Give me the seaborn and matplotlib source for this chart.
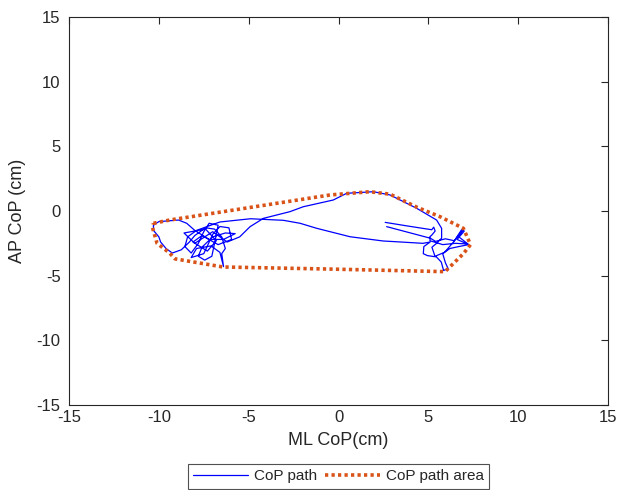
import matplotlib
matplotlib.use("Agg")
import matplotlib.pyplot as plt
import seaborn as sns
import pandas as pd

# CoP path (cm)
ml_path = [2.60, 3.80, 5.19, 5.30, 5.38, 5.20, 5.05, 5.40, 5.95, 6.45, 6.85, 7.00, 6.60, 7.25, 6.70,
           6.20, 5.80, 5.95, 6.10, 5.85, 5.72, 5.45, 4.95, 4.72, 4.75, 5.10,
           4.70, 3.50, 2.49, 0.64, -1.21, -2.14, -3.07, -4.90, -6.60, -7.33,
           -7.90, -8.40, -8.55, -8.20, -7.80, -7.50, -7.20, -6.70, -6.90, -7.05, -7.45, -7.80, -7.60,
           -7.00, -6.30, -5.75, -6.40, -7.20, -8.00, -8.45, -8.90, -10.00, -10.30, -10.30, -10.00,
           -9.90, -9.60, -9.25, -8.75, -8.30, -8.00, -7.40, -6.90, -6.50, -6.30, -6.50, -6.40, -6.60,
           -7.10, -7.90, -8.20, -7.50, -7.00, -6.60, -6.10, -5.95, -6.70, -7.60, -8.10, -7.30, -6.80,
           -7.40, -8.60, -8.00, -7.00, -6.20, -5.50,
           -4.92, -4.18, -2.70, -1.96, -0.29, 0.46, 1.94, 2.87, 4.35, 5.46, 5.74, 5.74, 5.46,
           5.20, 5.37, 5.90, 6.40, 6.95, 6.70, 7.20, 6.50, 5.80, 5.09, 5.10, 2.68]
ap_path = [-0.88, -1.15, -1.45, -1.25, -1.55, -1.85, -2.05, -2.35, -2.15, -2.30, -1.45, -1.55, -2.20, -2.60, -2.75,
           -2.90, -3.30, -4.00, -4.45, -4.60, -3.95, -3.55, -3.45, -3.30, -2.75, -2.40,
           -2.50, -2.40, -2.32, -1.99, -1.34, -0.95, -0.72, -0.60, -0.85, -1.21,
           -1.50, -2.00, -2.75, -3.25, -2.50, -1.60, -0.95, -1.10, -2.50, -3.50, -3.80, -3.50, -2.80,
           -2.00, -1.70, -1.75, -2.20, -2.20, -1.50, -0.95, -0.70, -0.82, -1.10, -1.50, -2.00,
           -2.40, -2.90, -3.25, -3.00, -2.40, -1.90, -1.30, -1.40, -2.00, -2.90, -3.30, -4.30, -3.20,
           -2.70, -2.90, -3.60, -3.30, -1.80, -1.20, -1.30, -2.20, -2.60, -1.90, -2.40, -3.10, -2.30,
           -1.40, -1.70, -2.50, -1.60, -2.40, -2.00,
           -1.21, -0.57, -0.05, 0.33, 0.85, 1.37, 1.49, 1.24, 0.21, -0.70, -1.34, -2.10, -2.50,
           -2.80, -3.50, -3.20, -2.40, -1.40, -2.00, -2.55, -2.50, -2.60, -2.30, -2.10, -1.21]

# boundary of the path area
ml_area = [-10.30, -9.40, -0.47, 1.75, 2.87, 4.35, 5.65, 6.95, 7.35, 6.95, 5.93, -0.47, -6.43,
           -9.10, -9.40, -10.10, -10.35, -10.30]
ap_area = [-0.95, -0.70, 1.24, 1.49, 1.30, 0.30, -0.44, -1.34, -2.60, -3.30, -4.69, -4.49, -4.33,
           -3.70, -3.25, -2.50, -1.30, -0.95]

sns.set_style("white")
plt.rcParams["font.family"] = ["Liberation Sans", "DejaVu Sans"]
plt.rcParams["axes.unicode_minus"] = False

fig = plt.figure(figsize=(6.19, 4.90), dpi=100)
ax = fig.add_axes([0.1115, 0.1735, 0.8707, 0.7918])

path_df = pd.DataFrame({"ml": ml_path, "ap": ap_path})
area_df = pd.DataFrame({"ml": ml_area, "ap": ap_area})

sns.lineplot(data=path_df, x="ml", y="ap", sort=False, estimator=None, ax=ax,
             color="#0000FF", linewidth=0.9, label="CoP path")
sns.lineplot(data=area_df, x="ml", y="ap", sort=False, estimator=None, ax=ax,
             color="#D95319", linewidth=2.6, linestyle=(0, (0.9, 0.9)), label="CoP path area")

ax.set_xlim(-15, 15)
ax.set_ylim(-15, 15)
ax.set_xticks(range(-15, 16, 5))
ax.set_yticks(range(-15, 16, 5))
ax.tick_params(direction="in", length=5, width=0.8, labelsize=12, colors="#262626",
               top=True, right=True, labeltop=False, labelright=False)
ax.tick_params(axis="y", pad=6)
for s in ax.spines.values():
    s.set_color("#262626")
    s.set_linewidth(0.8)
ax.set_xlabel("ML CoP(cm)", fontsize=13, color="#262626", labelpad=5)
ax.set_ylabel("AP CoP (cm)", fontsize=13, color="#262626", labelpad=8)

leg = ax.legend(loc="upper center", bbox_to_anchor=(0.5, -0.152), ncol=2, fontsize=11,
                frameon=True, fancybox=False, edgecolor="#262626", borderpad=0.35,
                handlelength=3.6, columnspacing=0.5, handletextpad=0.4, borderaxespad=0)
leg.get_frame().set_linewidth(0.8)

fig.savefig("out.png", dpi=100)
